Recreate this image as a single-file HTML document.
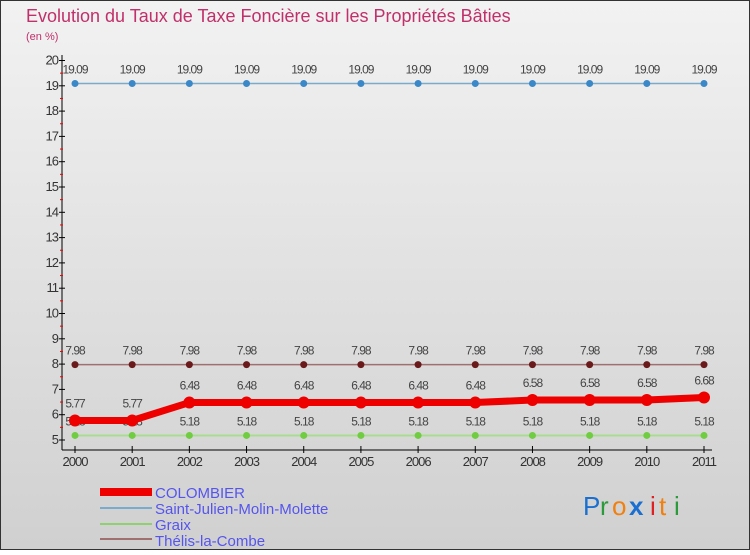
<!DOCTYPE html>
<html><head><meta charset="utf-8"><style>
body{margin:0}
#c{width:750px;height:550px;position:relative;font-family:"Liberation Sans",sans-serif}
</style></head><body>
<div id="c">
<svg id="s" width="750" height="550" xmlns="http://www.w3.org/2000/svg">
<defs><linearGradient id="bg" x1="0" y1="0" x2="0" y2="1"><stop offset="0" stop-color="#f2f2f2"/><stop offset="1" stop-color="#d0d0d0"/></linearGradient></defs>
<rect x="0.5" y="0.5" width="749" height="549" fill="url(#bg)" stroke="#333"/>
<text x="26" y="22" font-size="18" fill="#c0306a">Evolution du Taux de Taxe Foncière sur les Propriétés Bâties</text>
<text x="26" y="40" font-size="11" fill="#c0306a">(en %)</text>
<g id="axes"></g><g id="series"></g>
<g>
<rect x="100" y="488" width="52" height="8" fill="#e00"/>
<text x="155" y="498" font-size="15" fill="#5555ee">COLOMBIER</text>
<rect x="100" y="507" width="52" height="2" fill="#7aaacc"/>
<text x="155" y="514" font-size="15" fill="#5555ee">Saint-Julien-Molin-Molette</text>
<rect x="100" y="523" width="52" height="2" fill="#90d070"/>
<text x="155" y="530" font-size="15" fill="#5555ee">Graix</text>
<rect x="100" y="538" width="52" height="2" fill="#a07070"/>
<text x="155" y="546" font-size="15" fill="#5555ee">Thélis-la-Combe</text>
</g>
<g font-size="26">
<text x="583" y="515" fill="#1a6fd0">P</text><text x="600" y="515" fill="#2a9a3a">r</text><text x="612" y="515" fill="#f08010">o</text><text x="629" y="515" fill="#1a6fd0" font-weight="bold">x</text><text x="650" y="515" fill="#e02020">i</text><text x="659" y="515" fill="#f08010">t</text><text x="674" y="515" fill="#2a9a3a">i</text>
</g>
</svg>
</div>
<script>
const years=[2000,2001,2002,2003,2004,2005,2006,2007,2008,2009,2010,2011];
const colombier=[5.77,5.77,6.48,6.48,6.48,6.48,6.48,6.48,6.58,6.58,6.58,6.68];
const saintJulien=[19.09,19.09,19.09,19.09,19.09,19.09,19.09,19.09,19.09,19.09,19.09,19.09];
const graix=[5.18,5.18,5.18,5.18,5.18,5.18,5.18,5.18,5.18,5.18,5.18,5.18];
const thelis=[7.98,7.98,7.98,7.98,7.98,7.98,7.98,7.98,7.98,7.98,7.98,7.98];
const yTicks=[5,6,7,8,9,10,11,12,13,14,15,16,17,18,19,20];
const NS="http://www.w3.org/2000/svg";
function xS(i){return 75+i*(704-75)/(years.length-1);}
function yS(v){return 440-(v-5)*(440-60.5)/15;}
function mk(tag,attrs,parent){const e=document.createElementNS(NS,tag);for(const k in attrs)e.setAttribute(k,attrs[k]);parent.appendChild(e);return e;}
const ax=document.getElementById('axes');
const yl=mk('line',{x1:62,y1:55,x2:62,y2:450,stroke:'#000'},ax);


const xl=mk('line',{x1:62,y1:450,x2:712,y2:450,stroke:'#000'},ax);


yTicks.forEach(t=>{
 mk('line',{x1:59,y1:yS(t),x2:65,y2:yS(t),stroke:'#000'},ax);
 if(t<20) mk('line',{x1:60,y1:yS(t+0.5),x2:63,y2:yS(t+0.5),stroke:'#e00'},ax);
 const tx=mk('text',{x:58,y:yS(t)+4,'font-size':13,fill:'#333','text-anchor':'end','letter-spacing':'-1'},ax);
 tx.textContent=t;
 
 
});
years.forEach((y,i)=>{
 mk('line',{x1:xS(i),y1:446,x2:xS(i),y2:453,stroke:'#000'},ax);
 const tx=mk('text',{x:xS(i),y:466,'font-size':13,fill:'#333','text-anchor':'middle','letter-spacing':'-1'},ax);
 tx.textContent=y;
 
 
});
const sg=document.getElementById('series');
function series(vals,name,lc,dc,lw,r,labelDy){
 const g=mk('g',{},sg);
 
 
 const p=mk('polyline',{points:vals.map((v,i)=>xS(i)+','+yS(v)).join(' '),fill:'none',stroke:lc,'stroke-width':lw,'stroke-linejoin':'round'},g);
 
 
 vals.forEach((v,i)=>{
  const c=mk('circle',{cx:xS(i),cy:yS(v),r:r,fill:dc},g);
  
  
  const t=mk('text',{x:xS(i),y:yS(v)+labelDy,'font-size':12,fill:'#444','text-anchor':'middle','letter-spacing':'-1'},g);
  t.textContent=v.toFixed(2);
  
  
 });
}
series(saintJulien,'saint-julien','#7aaacc','#3a88c8',1.5,3.5,-10);
series(thelis,'thelis','#a07070','#6a1a1a',1.5,3.5,-10);
series(graix,'graix','#a8dc90','#70cc40',2,3.5,-10);
series(colombier,'colombier','#ee0000','#ee0000',7,6,-13);
</script>
</body></html>
